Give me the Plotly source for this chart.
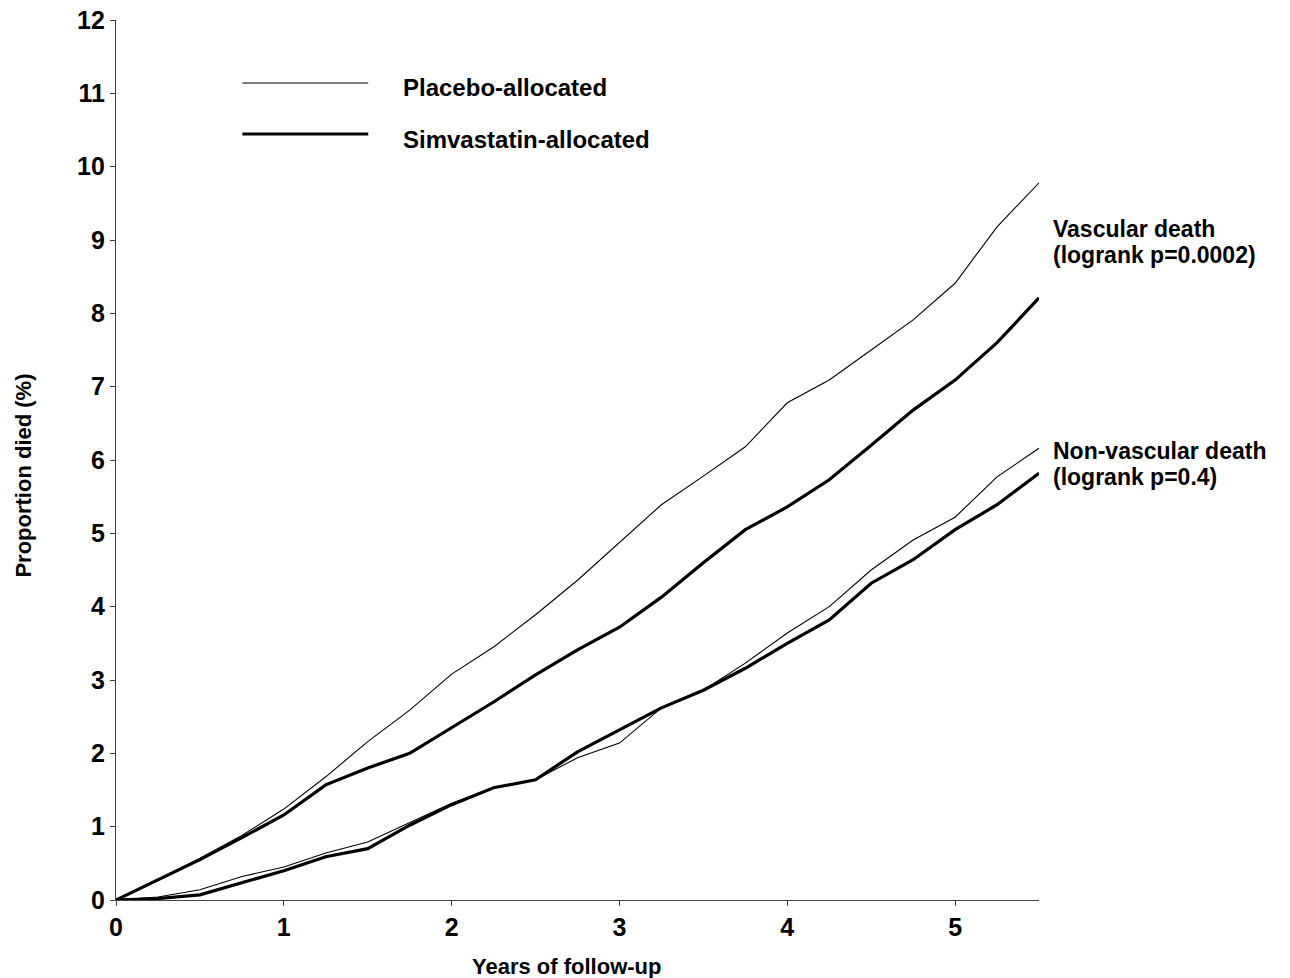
import plotly.graph_objects as go

years = [0, 0.25, 0.5, 0.75, 1.0, 1.25, 1.5, 1.75, 2.0, 2.25, 2.5, 2.75, 3.0,
         3.25, 3.5, 3.75, 4.0, 4.25, 4.5, 4.75, 5.0, 5.25, 5.5]

vasc_placebo = [0, 0.29, 0.57, 0.88, 1.24, 1.68, 2.16, 2.59, 3.08, 3.45, 3.89, 4.36, 4.87,
                5.39, 5.78, 6.18, 6.78, 7.09, 7.5, 7.91, 8.41, 9.18, 9.78]
vasc_simva = [0, 0.28, 0.55, 0.85, 1.16, 1.57, 1.8, 2.0, 2.35, 2.7, 3.07, 3.41, 3.72,
              4.13, 4.6, 5.05, 5.36, 5.73, 6.2, 6.68, 7.09, 7.6, 8.21]
nonvasc_placebo = [0, 0.04, 0.14, 0.32, 0.45, 0.64, 0.79, 1.06, 1.32, 1.53, 1.64, 1.94, 2.14,
                   2.62, 2.86, 3.23, 3.64, 4.0, 4.5, 4.91, 5.22, 5.77, 6.16]
nonvasc_simva = [0, 0.02, 0.07, 0.23, 0.40, 0.59, 0.7, 1.02, 1.30, 1.53, 1.64, 2.02, 2.32,
                 2.62, 2.86, 3.16, 3.5, 3.82, 4.32, 4.64, 5.05, 5.39, 5.82]

x_ticks = [0, 1, 2, 3, 4, 5]
y_ticks = list(range(0, 13))

legend_labels = ["Placebo-allocated", "Simvastatin-allocated"]
end_labels = [["Vascular death", "(logrank p=0.0002)"],
              ["Non-vascular death", "(logrank p=0.4)"]]
x_title = "Years of follow-up"
y_title = "Proportion died (%)"

FONT = "Liberation Sans, Arial, Helvetica, sans-serif"
THIN = 1.1
THICK = 3.2
ANN = 24

fig = go.Figure()
for ys, w in [(vasc_placebo, THIN), (vasc_simva, THICK),
              (nonvasc_placebo, THIN), (nonvasc_simva, THICK)]:
    fig.add_trace(go.Scatter(x=years, y=ys, mode="lines",
                             line=dict(color="black", width=w),
                             showlegend=False, hoverinfo="skip"))

# Paper mapping helpers (plot area 115.5..1039.5 x 20..900 px)
L, R, T, B = 115.5, 1039.5, 20, 900
def px(xpix):
    return (xpix - L) / (R - L)
def py(ypix):
    return (B - ypix) / (B - T)

shapes = [
    dict(type="line", xref="paper", yref="paper", x0=px(242), x1=px(368), y0=py(83), y1=py(83),
         line=dict(color="black", width=THIN)),
    dict(type="line", xref="paper", yref="paper", x0=px(242), x1=px(368), y0=py(134), y1=py(134),
         line=dict(color="black", width=THICK)),
]

def txt(x, y, s, size=ANN, **kw):
    d = dict(xref="paper", yref="paper", x=px(x), y=py(y), text="<b>%s</b>" % s,
             showarrow=False, xanchor="left", yanchor="middle",
             font=dict(size=size, color="black", family=FONT))
    d.update(kw)
    return d

annotations = [
    txt(401, 87, legend_labels[0]),
    txt(401, 139, legend_labels[1]),
    txt(1052, 229, end_labels[0][0], size=23),
    txt(1052, 255, end_labels[0][1], size=23),
    txt(1052, 451, end_labels[1][0], size=23),
    txt(1052, 477, end_labels[1][1], size=23),
    txt(566, 966, x_title, size=22, xanchor="center"),
    txt(22, 476, y_title, size=22, xanchor="center", textangle=-90),
]

fig.update_layout(
    width=1290, height=978,
    margin=dict(l=L, r=1290 - R, t=T, b=978 - B, autoexpand=False),
    paper_bgcolor="white", plot_bgcolor="white",
    font=dict(family=FONT, size=21, color="black"),
    shapes=shapes, annotations=annotations,
    xaxis=dict(range=[0, 5.5], tickvals=x_ticks, ticktext=["<b>%d</b>" % v for v in x_ticks],
               showgrid=False, zeroline=False, showline=True, linecolor="#444", linewidth=1.3,
               ticks="outside", ticklen=5, tickcolor="#444", tickwidth=1.3,
               tickfont=dict(size=25), automargin=False),
    yaxis=dict(range=[0, 12], tickvals=y_ticks, ticktext=["<b>%d</b>" % v for v in y_ticks],
               showgrid=False, zeroline=False, showline=True, linecolor="#444", linewidth=1.3,
               ticks="outside", ticklen=5, tickcolor="#444", tickwidth=1.3,
               tickfont=dict(size=25), automargin=False),
)

fig.write_html("out.html")
